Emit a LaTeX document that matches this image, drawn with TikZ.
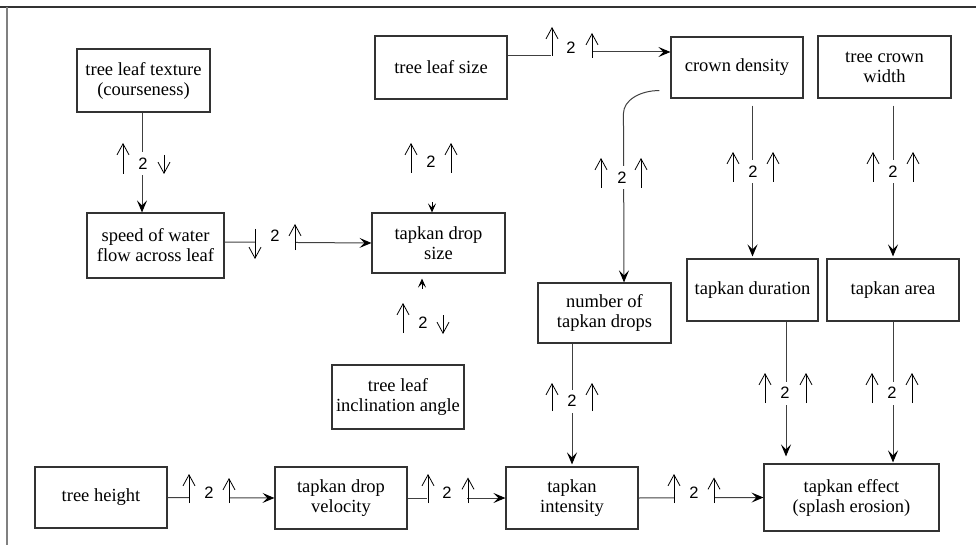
\documentclass[tikz,border=0pt]{standalone}
\usepackage{fontspec}
\setmainfont{Liberation Serif}
\newfontfamily\boxfont{Liberation Serif}
\newfontfamily\labfont{Liberation Sans}
\usetikzlibrary{arrows.meta,calc}
\newcommand\bx[6]{\node[box, minimum width={#4-#2}, minimum height={#5-#3}] (#1) at ({(#2+#4)/2},{(#3+#5)/2}) {#6};}
\newcommand\garr[4]{\draw[glyph] ($(#1.center)+(#2,#3)$) -- ($(#1.center)+(#2,#4)$);}
\newcommand\twolab[3]{\node[two] (#1) at (#2,#3) {2};}
\begin{document}
\begin{tikzpicture}[x=1pt,y=-1pt,
  box/.style={draw=black!80, line width=1.1pt, align=center, inner sep=0pt,
    font=\boxfont\fontsize{18.5}{20}\selectfont},
  arr/.style={draw=black!75, line width=1pt, -{Stealth[length=12pt,width=10pt,inset=5pt,black]}},
  plain/.style={draw=black!75, line width=1pt},
  stub/.style={draw=black, line width=1pt, -{Stealth[length=9pt,width=8pt,inset=4pt]}},
  glyph/.style={draw=black, line width=0.8pt, -{Straight Barb[length=11pt,width=12pt]}},
  two/.style={fill=white, inner sep=0pt, minimum width=40pt, minimum height=23pt,
    font=\labfont\fontsize{16.5}{17}\selectfont}]
\useasboundingbox (0,0) rectangle (976,545);
% frame
\draw[black!80, line width=1.2pt] (0,7) -- (976,7);
\draw[black!50, line width=1.5pt] (7,7) -- (7,545);
% boxes
\bx{tlt}{77}{49}{210}{112}{tree leaf texture\\(courseness)}
\bx{sow}{87}{213}{224}{278}{speed of water\\flow across leaf}
\bx{tls}{375}{36}{507}{99}{tree leaf size}
\bx{dsz}{372}{213}{505}{273}{tapkan drop\\size}
\bx{tli}{332}{365}{464}{429}{tree leaf\\inclination angle}
\bx{cd}{671}{37}{803}{98}{crown density}
\bx{tcw}{818}{36}{951}{98}{tree crown\\width}
\bx{dur}{687}{259}{818}{321}{tapkan duration}
\bx{area}{827}{259}{959}{321}{tapkan area}
\bx{ntd}{538}{283}{671}{343}{number of\\tapkan drops}
\bx{th}{35}{467}{167}{528}{tree height}
\bx{vel}{275}{467}{407}{529}{tapkan drop\\velocity}
\bx{int}{506}{467}{638}{529}{tapkan\\intensity}
\bx{eff}{764}{464}{939}{531}{tapkan effect\\(splash erosion)}
% connectors
\coordinate (x1) at ($(tlt.south)+(-1.5,0)$);
\draw[arr] (x1) -- (x1 |- sow.north);
\draw[arr] ($(sow.east)+(0,-3.5)$) -- (dsz.west);
\coordinate (t1) at (552,56);
\coordinate (t2) at (592,52);
\draw[plain] ($(tls.east)+(0,-11.5)$) -- (t1);
\draw[arr] (t2) -- ($(cd.west)+(0,-15.5)$);
\coordinate (s3) at ($(dsz.north)+(-6.5,-10)$);
\draw[stub] (s3) -- (s3 |- dsz.north);
\coordinate (s4) at ($(dsz.south)+(-16.5,15)$);
\draw[stub] (s4) -- ($(s4 |- dsz.south)+(0,5)$);
\coordinate (cs) at ($(cd.south west)+(-11,-8)$);
\draw[arr] (cs) .. controls +(-20,0) and +(0,-13) .. ($(cs)+(-36,23)$) -- ($(ntd.north)+(19.5,0)$);
\coordinate (a7) at ($(dur.north |- cd.south)+(0,7)$);
\draw[arr] (a7) -- ($(dur.north)+(0,-2)$);
\coordinate (a8) at ($(area.north |- tcw.south)+(0,7)$);
\draw[arr] (a8) -- ($(area.north)+(0,-2)$);
\draw[arr] (int.north |- ntd.south) -- ($(int.north)+(0,-2)$);
\coordinate (a10) at ($(dur.south)+(33.5,0)$);
\draw[arr] (a10) -- ($(a10 |- eff.north)+(0,-7)$);
\draw[arr] (area.south) -- ($(area.south |- eff.north)+(0,-1)$);
\draw[arr] (th.east) -- (vel.west);
\draw[arr] (vel.east) -- (int.west);
\draw[arr] (int.east) -- (eff.west);
% labels
\twolab{L1}{143}{163.5}
\garr{L1}{-20}{10.5}{-20.5}
\garr{L1}{21}{-8.5}{10.5}
\twolab{L2}{275}{236}
\garr{L2}{-20}{-7}{23}
\garr{L2}{20}{14}{-12}
\twolab{L3}{431}{162}
\garr{L3}{-20}{11}{-19}
\garr{L3}{20}{11}{-19}
\twolab{L4}{423}{323}
\garr{L4}{-20}{10}{-20}
\garr{L4}{20}{-8}{11}
\twolab{L5}{571}{48}
\garr{L5}{-19}{8}{-21}
\garr{L5}{21}{10}{-15}
\twolab{L6}{622}{178}
\garr{L6}{-21}{10}{-20}
\garr{L6}{19}{10}{-20}
\twolab{L7}{753}{172}
\garr{L7}{-20}{10}{-20}
\garr{L7}{20}{10}{-20}
\twolab{L8}{893}{172}
\garr{L8}{-20}{10}{-20}
\garr{L8}{20}{10}{-20}
\twolab{L9}{572}{401}
\garr{L9}{-20}{10}{-18}
\garr{L9}{20}{10}{-18}
\twolab{L10}{785}{393}
\garr{L10}{-20}{10}{-20}
\garr{L10}{21}{10}{-20}
\twolab{L11}{892}{393}
\garr{L11}{-20}{10}{-20}
\garr{L11}{20}{10}{-20}
\twolab{L12}{209}{493}
\garr{L12}{-20}{10}{-19}
\garr{L12}{20}{10}{-15}
\twolab{L13}{447}{492.5}
\garr{L13}{-19}{10.5}{-18.5}
\garr{L13}{21}{10.5}{-15}
\twolab{L14}{694}{492.5}
\garr{L14}{-20}{10.5}{-18.5}
\garr{L14}{20}{10.5}{-15}
\end{tikzpicture}
\end{document}
